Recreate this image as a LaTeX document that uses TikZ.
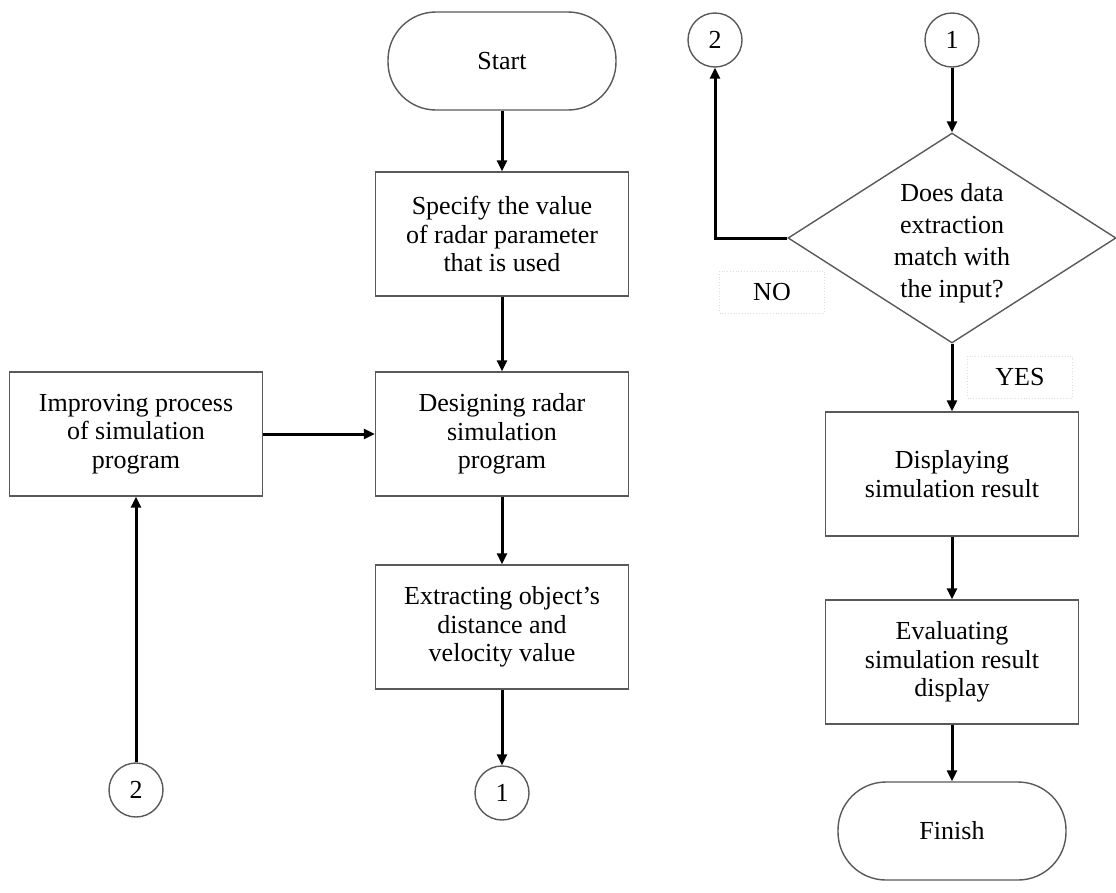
\documentclass[tikz,border=0pt]{standalone}
\usepackage{fontspec}
\setmainfont{Liberation Serif}
\usetikzlibrary{shapes.geometric,arrows.meta}
\newcommand\myfs{\fontsize{26pt}{28.5pt}\selectfont}
\begin{document}
\begin{tikzpicture}[x=1pt,y=-1pt,
  box/.style={draw=black!65, line width=1.4pt, minimum width=253pt, minimum height=124pt, align=center, font=\myfs, inner sep=0pt},
  term/.style={draw=black!65, line width=1.4pt, rectangle, rounded corners=48pt, minimum width=228pt, minimum height=98pt, font=\myfs, inner sep=0pt},
  conn/.style={draw=black!65, line width=1.4pt, circle, minimum size=54pt, font=\myfs, inner sep=0pt},
  dia/.style={draw=black!65, line width=1.4pt, diamond, minimum width=328pt, minimum height=210pt, inner sep=0pt},
  diatext/.style={align=center, font=\fontsize{26pt}{32pt}\selectfont, inner sep=0pt},
  lbl/.style={draw=black!12, dotted, line width=0.8pt, minimum width=105pt, minimum height=42pt, font=\myfs, inner sep=0pt},
  arr/.style={line width=3pt, -{Triangle[length=11pt,width=10pt]}}]
\useasboundingbox (0,0) rectangle (1116,892);
% left/middle column
\node[term] (start) at (502,61) {Start};
\node[box] (b1) at (502,234) {Specify the value\\of radar parameter\\that is used};
\node[box] (b2) at (502,434) {Designing radar\\simulation\\program};
\node[box] (b3) at (502,627) {Extracting object’s\\distance and\\velocity value};
\node[conn] (c1a) at (502,793) {1};
\node[box] (bl) at (136,434) {Improving process\\of simulation\\program};
\node[conn] (c2a) at (136,790) {2};
% right column
\node[conn] (c2b) at (715,40) {2};
\node[conn] (c1b) at (952,40) {1};
\node[dia] (d) at (952,238) {};
\node[diatext] (dt) at (952,243) {Does data\\extraction\\match with\\the input?};
\node[box] (b4) at (952,474) {Displaying\\simulation result};
\node[box] (b5) at (952,662) {Evaluating\\simulation result\\display};
\node[term] (fin) at (952,831) {Finish};
\node[lbl] (no) at (772,292) {NO};
\node[lbl] (yes) at (1020,377) {YES};
% connectors
\draw[arr] (start) -- (b1);
\draw[arr] (b1) -- (b2);
\draw[arr] (b2) -- (b3);
\draw[arr] (b3) -- (c1a);
\draw[arr] (bl) -- (b2);
\draw[arr] (c2a) -- (bl);
\draw[arr] (c1b) -- (d);
\draw[arr] (d.west) -| (c2b);
\draw[arr] (d) -- (b4);
\draw[arr] (b4) -- (b5);
\draw[arr] (b5) -- (fin);
\end{tikzpicture}
\end{document}
